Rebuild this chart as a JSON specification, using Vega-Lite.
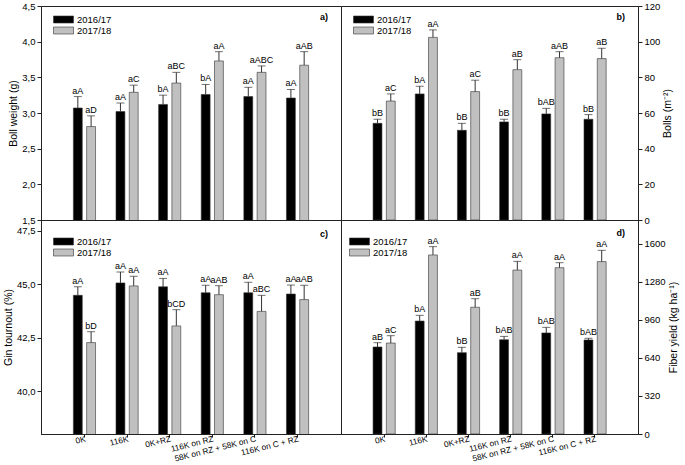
{
  "$schema": "https://vega.github.io/schema/vega-lite/v6.json",
  "padding": {"left": 3, "top": 0, "right": 0, "bottom": 0},
  "config": {
    "font": "Liberation Sans",
    "view": {"stroke": "#222", "strokeWidth": 1},
    "axis": {"grid": false, "domainColor": "#222", "tickColor": "#222", "labelColor": "#000", "titleColor": "#000", "labelFontSize": 9.5, "titleFontSize": 10.5, "titleFontWeight": "normal", "tickSize": 4, "labelPadding": 2, "titlePadding": 3, "labelFont": "Liberation Sans", "titleFont": "Liberation Sans", "labelOverlap": false},
    "legend": {"title": null, "orient": "none", "symbolType": "M-2,-0.7H2V0.7H-2Z", "symbolSize": 100, "symbolStrokeColor": "#333", "symbolStrokeWidth": 0.6, "labelFontSize": 9.5, "labelOffset": 8, "rowPadding": 0, "padding": 0, "labelFont": "Liberation Sans", "labelColor": "#000"},
    "title": {"anchor": "end", "frame": "group", "orient": "top", "fontSize": 9, "fontWeight": "bold", "font": "Liberation Sans", "dx": -13}
  },
  "datasets": {
    "boll": [
      {"treatment": "0K", "year": "2016/17", "mean": 3.07, "upper": 3.23, "label": "aA"},
      {"treatment": "0K", "year": "2017/18", "mean": 2.81, "upper": 2.96, "label": "aD"},
      {"treatment": "116K", "year": "2016/17", "mean": 3.02, "upper": 3.14, "label": "aA"},
      {"treatment": "116K", "year": "2017/18", "mean": 3.29, "upper": 3.39, "label": "aC"},
      {"treatment": "0K+RZ", "year": "2016/17", "mean": 3.12, "upper": 3.25, "label": "bA"},
      {"treatment": "0K+RZ", "year": "2017/18", "mean": 3.42, "upper": 3.57, "label": "aBC"},
      {"treatment": "116K on RZ", "year": "2016/17", "mean": 3.26, "upper": 3.40, "label": "bA"},
      {"treatment": "116K on RZ", "year": "2017/18", "mean": 3.73, "upper": 3.86, "label": "aA"},
      {"treatment": "58K on RZ + 58K on C", "year": "2016/17", "mean": 3.23, "upper": 3.36, "label": "aA"},
      {"treatment": "58K on RZ + 58K on C", "year": "2017/18", "mean": 3.57, "upper": 3.66, "label": "aABC"},
      {"treatment": "116K on C + RZ", "year": "2016/17", "mean": 3.21, "upper": 3.33, "label": "aA"},
      {"treatment": "116K on C + RZ", "year": "2017/18", "mean": 3.67, "upper": 3.86, "label": "aAB"}
    ],
    "bolls": [
      {"treatment": "0K", "year": "2016/17", "mean": 54.2, "upper": 56.5, "label": "bB"},
      {"treatment": "0K", "year": "2017/18", "mean": 66.7, "upper": 70.7, "label": "aC"},
      {"treatment": "116K", "year": "2016/17", "mean": 70.7, "upper": 75.0, "label": "bA"},
      {"treatment": "116K", "year": "2017/18", "mean": 102.4, "upper": 106.6, "label": "aA"},
      {"treatment": "0K+RZ", "year": "2016/17", "mean": 50.3, "upper": 54.2, "label": "bB"},
      {"treatment": "0K+RZ", "year": "2017/18", "mean": 72.0, "upper": 78.4, "label": "aC"},
      {"treatment": "116K on RZ", "year": "2016/17", "mean": 55.0, "upper": 56.5, "label": "bB"},
      {"treatment": "116K on RZ", "year": "2017/18", "mean": 84.3, "upper": 89.9, "label": "aB"},
      {"treatment": "58K on RZ + 58K on C", "year": "2016/17", "mean": 59.5, "upper": 62.6, "label": "bAB"},
      {"treatment": "58K on RZ + 58K on C", "year": "2017/18", "mean": 91.0, "upper": 94.4, "label": "aAB"},
      {"treatment": "116K on C + RZ", "year": "2016/17", "mean": 56.5, "upper": 59.1, "label": "bB"},
      {"treatment": "116K on C + RZ", "year": "2017/18", "mean": 90.5, "upper": 96.3, "label": "aB"}
    ],
    "gin": [
      {"treatment": "0K", "year": "2016/17", "mean": 44.48, "upper": 44.88, "label": "aA"},
      {"treatment": "0K", "year": "2017/18", "mean": 42.27, "upper": 42.78, "label": "bD"},
      {"treatment": "116K", "year": "2016/17", "mean": 45.06, "upper": 45.57, "label": "aA"},
      {"treatment": "116K", "year": "2017/18", "mean": 44.92, "upper": 45.37, "label": "aA"},
      {"treatment": "0K+RZ", "year": "2016/17", "mean": 44.88, "upper": 45.27, "label": "aA"},
      {"treatment": "0K+RZ", "year": "2017/18", "mean": 43.05, "upper": 43.81, "label": "bCD"},
      {"treatment": "116K on RZ", "year": "2016/17", "mean": 44.60, "upper": 44.95, "label": "aA"},
      {"treatment": "116K on RZ", "year": "2017/18", "mean": 44.51, "upper": 44.93, "label": "aAB"},
      {"treatment": "58K on RZ + 58K on C", "year": "2016/17", "mean": 44.60, "upper": 45.09, "label": "aA"},
      {"treatment": "58K on RZ + 58K on C", "year": "2017/18", "mean": 43.73, "upper": 44.48, "label": "aBC"},
      {"treatment": "116K on C + RZ", "year": "2016/17", "mean": 44.54, "upper": 44.96, "label": "aA"},
      {"treatment": "116K on C + RZ", "year": "2017/18", "mean": 44.28, "upper": 44.95, "label": "aAB"}
    ],
    "fiber": [
      {"treatment": "0K", "year": "2016/17", "mean": 732, "upper": 768, "label": "aB"},
      {"treatment": "0K", "year": "2017/18", "mean": 765, "upper": 827, "label": "aC"},
      {"treatment": "116K", "year": "2016/17", "mean": 950, "upper": 998, "label": "bA"},
      {"treatment": "116K", "year": "2017/18", "mean": 1506, "upper": 1576, "label": "aA"},
      {"treatment": "0K+RZ", "year": "2016/17", "mean": 684, "upper": 729, "label": "bB"},
      {"treatment": "0K+RZ", "year": "2017/18", "mean": 1066, "upper": 1138, "label": "aB"},
      {"treatment": "116K on RZ", "year": "2016/17", "mean": 793, "upper": 821, "label": "bAB"},
      {"treatment": "116K on RZ", "year": "2017/18", "mean": 1379, "upper": 1452, "label": "aA"},
      {"treatment": "58K on RZ + 58K on C", "year": "2016/17", "mean": 850, "upper": 897, "label": "bAB"},
      {"treatment": "58K on RZ + 58K on C", "year": "2017/18", "mean": 1399, "upper": 1441, "label": "aA"},
      {"treatment": "116K on C + RZ", "year": "2016/17", "mean": 791, "upper": 805, "label": "bAB"},
      {"treatment": "116K on C + RZ", "year": "2017/18", "mean": 1450, "upper": 1545, "label": "aA"}
    ]
  },
  "columns": 2,
  "spacing": 0,
  "bounds": "flush",
  "resolve": {"scale": {"color": "independent"}, "legend": {"color": "independent"}},
  "concat": [
    {
      "width": 300, "height": 214,
      "data": {"name": "boll"},
      "title": {"text": "a)", "offset": -21},
      "encoding": {
        "x": {"field": "treatment", "type": "nominal", "sort": ["0K", "116K", "0K+RZ", "116K on RZ", "58K on RZ + 58K on C", "116K on C + RZ"], "scale": {"paddingInner": 0.48, "paddingOuter": 0.76}, "axis": null},
        "xOffset": {"field": "year", "type": "nominal", "sort": ["2016/17", "2017/18"], "scale": {"paddingInner": 0.33, "paddingOuter": 0}}
      },
      "layer": [
        {"mark": {"type": "bar", "stroke": "#333", "strokeWidth": 0.6, "clip": true},
         "encoding": {
           "y": {"field": "mean", "type": "quantitative", "scale": {"domain": [1.5, 4.5], "zero": false, "nice": false}, "axis": {"title": "Boll weight (g)", "values": [1.5, 2, 2.5, 3, 3.5, 4, 4.5], "labelOverlap": false, "labelExpr": "replace(format(datum.value, '.1f'), '.', ',')"}},
           "color": {"field": "year", "type": "nominal", "scale": {"domain": ["2016/17", "2017/18"], "range": ["#000000", "#c0c0c0"]}, "legend": {"legendX": 17, "legendY": 8}}
         }},
        {"mark": {"type": "rule", "color": "#333", "strokeWidth": 1}, "encoding": {"y": {"field": "mean", "type": "quantitative", "axis": {"title": "Boll weight (g)", "values": [1.5, 2, 2.5, 3, 3.5, 4, 4.5], "labelOverlap": false, "labelExpr": "replace(format(datum.value, '.1f'), '.', ',')"}}, "y2": {"field": "upper"}}},
        {"mark": {"type": "tick", "orient": "horizontal", "size": 8, "thickness": 1, "color": "#333"}, "encoding": {"y": {"field": "upper", "type": "quantitative", "axis": {"title": "Boll weight (g)", "values": [1.5, 2, 2.5, 3, 3.5, 4, 4.5], "labelOverlap": false, "labelExpr": "replace(format(datum.value, '.1f'), '.', ',')"}}}},
        {"mark": {"type": "text", "baseline": "bottom", "dy": -1, "fontSize": 9}, "encoding": {"y": {"field": "upper", "type": "quantitative", "axis": {"title": "Boll weight (g)", "values": [1.5, 2, 2.5, 3, 3.5, 4, 4.5], "labelOverlap": false, "labelExpr": "replace(format(datum.value, '.1f'), '.', ',')"}}, "text": {"field": "label"}}}
      ]
    },
    {
      "width": 297, "height": 214,
      "data": {"name": "bolls"},
      "title": {"text": "b)", "offset": -21},
      "encoding": {
        "x": {"field": "treatment", "type": "nominal", "sort": ["0K", "116K", "0K+RZ", "116K on RZ", "58K on RZ + 58K on C", "116K on C + RZ"], "scale": {"paddingInner": 0.48, "paddingOuter": 0.76}, "axis": null},
        "xOffset": {"field": "year", "type": "nominal", "sort": ["2016/17", "2017/18"], "scale": {"paddingInner": 0.33, "paddingOuter": 0}}
      },
      "layer": [
        {"mark": {"type": "bar", "stroke": "#333", "strokeWidth": 0.6, "clip": true},
         "encoding": {
           "y": {"field": "mean", "type": "quantitative", "scale": {"domain": [0, 120], "nice": false}, "axis": {"orient": "right", "title": "Bolls (m⁻²)", "titleAngle": 270, "titleBaseline": "top", "values": [0, 20, 40, 60, 80, 100, 120], "labelOverlap": false, "format": "d"}},
           "color": {"field": "year", "type": "nominal", "scale": {"domain": ["2016/17", "2017/18"], "range": ["#000000", "#c0c0c0"]}, "legend": {"legendX": 17, "legendY": 8}}
         }},
        {"mark": {"type": "rule", "color": "#333", "strokeWidth": 1}, "encoding": {"y": {"field": "mean", "type": "quantitative", "axis": {"orient": "right", "title": "Bolls (m⁻²)", "titleAngle": 270, "titleBaseline": "top", "values": [0, 20, 40, 60, 80, 100, 120], "labelOverlap": false, "format": "d"}}, "y2": {"field": "upper"}}},
        {"mark": {"type": "tick", "orient": "horizontal", "size": 8, "thickness": 1, "color": "#333"}, "encoding": {"y": {"field": "upper", "type": "quantitative", "axis": {"orient": "right", "title": "Bolls (m⁻²)", "titleAngle": 270, "titleBaseline": "top", "values": [0, 20, 40, 60, 80, 100, 120], "labelOverlap": false, "format": "d"}}}},
        {"mark": {"type": "text", "baseline": "bottom", "dy": -1, "fontSize": 9}, "encoding": {"y": {"field": "upper", "type": "quantitative", "axis": {"orient": "right", "title": "Bolls (m⁻²)", "titleAngle": 270, "titleBaseline": "top", "values": [0, 20, 40, 60, 80, 100, 120], "labelOverlap": false, "format": "d"}}, "text": {"field": "label"}}}
      ]
    },
    {
      "width": 300, "height": 214,
      "data": {"name": "gin"},
      "title": {"text": "c)", "offset": -19},
      "encoding": {
        "x": {"field": "treatment", "type": "nominal", "sort": ["0K", "116K", "0K+RZ", "116K on RZ", "58K on RZ + 58K on C", "116K on C + RZ"], "scale": {"paddingInner": 0.48, "paddingOuter": 0.76}, "axis": {"title": null, "labelAngle": -14, "labelAlign": "right", "labelBaseline": "top", "labelPadding": -3, "tickSize": 3, "labelFontSize": 8.3}},
        "xOffset": {"field": "year", "type": "nominal", "sort": ["2016/17", "2017/18"], "scale": {"paddingInner": 0.33, "paddingOuter": 0}}
      },
      "layer": [
        {"mark": {"type": "bar", "stroke": "#333", "strokeWidth": 0.6, "clip": true},
         "encoding": {
           "y": {"field": "mean", "type": "quantitative", "scale": {"domain": [38, 48], "zero": false, "nice": false}, "axis": {"title": "Gin tournout (%)", "values": [40, 42.5, 45, 47.5], "labelOverlap": false, "labelExpr": "replace(format(datum.value, '.1f'), '.', ',')"}},
           "color": {"field": "year", "type": "nominal", "scale": {"domain": ["2016/17", "2017/18"], "range": ["#000000", "#c0c0c0"]}, "legend": {"legendX": 17, "legendY": 16}}
         }},
        {"mark": {"type": "rule", "color": "#333", "strokeWidth": 1}, "encoding": {"y": {"field": "mean", "type": "quantitative", "axis": {"title": "Gin tournout (%)", "values": [40, 42.5, 45, 47.5], "labelOverlap": false, "labelExpr": "replace(format(datum.value, '.1f'), '.', ',')"}}, "y2": {"field": "upper"}}},
        {"mark": {"type": "tick", "orient": "horizontal", "size": 8, "thickness": 1, "color": "#333"}, "encoding": {"y": {"field": "upper", "type": "quantitative", "axis": {"title": "Gin tournout (%)", "values": [40, 42.5, 45, 47.5], "labelOverlap": false, "labelExpr": "replace(format(datum.value, '.1f'), '.', ',')"}}}},
        {"mark": {"type": "text", "baseline": "bottom", "dy": -1, "fontSize": 9}, "encoding": {"y": {"field": "upper", "type": "quantitative", "axis": {"title": "Gin tournout (%)", "values": [40, 42.5, 45, 47.5], "labelOverlap": false, "labelExpr": "replace(format(datum.value, '.1f'), '.', ',')"}}, "text": {"field": "label"}}}
      ]
    },
    {
      "width": 297, "height": 214,
      "data": {"name": "fiber"},
      "title": {"text": "d)", "offset": -18},
      "encoding": {
        "x": {"field": "treatment", "type": "nominal", "sort": ["0K", "116K", "0K+RZ", "116K on RZ", "58K on RZ + 58K on C", "116K on C + RZ"], "scale": {"paddingInner": 0.48, "paddingOuter": 0.76}, "axis": {"title": null, "labelAngle": -14, "labelAlign": "right", "labelBaseline": "top", "labelPadding": -3, "tickSize": 3, "labelFontSize": 8.3}},
        "xOffset": {"field": "year", "type": "nominal", "sort": ["2016/17", "2017/18"], "scale": {"paddingInner": 0.33, "paddingOuter": 0}}
      },
      "layer": [
        {"mark": {"type": "bar", "stroke": "#333", "strokeWidth": 0.6, "clip": true},
         "encoding": {
           "y": {"field": "mean", "type": "quantitative", "scale": {"domain": [0, 1800], "nice": false}, "axis": {"orient": "right", "title": "Fiber yield (kg ha⁻¹)", "titleAngle": 270, "titleBaseline": "top", "values": [0, 320, 640, 960, 1280, 1600], "labelOverlap": false, "format": "d"}},
           "color": {"field": "year", "type": "nominal", "scale": {"domain": ["2016/17", "2017/18"], "range": ["#000000", "#c0c0c0"]}, "legend": {"legendX": 13, "legendY": 16}}
         }},
        {"mark": {"type": "rule", "color": "#333", "strokeWidth": 1}, "encoding": {"y": {"field": "mean", "type": "quantitative", "axis": {"orient": "right", "title": "Fiber yield (kg ha⁻¹)", "titleAngle": 270, "titleBaseline": "top", "values": [0, 320, 640, 960, 1280, 1600], "labelOverlap": false, "format": "d"}}, "y2": {"field": "upper"}}},
        {"mark": {"type": "tick", "orient": "horizontal", "size": 8, "thickness": 1, "color": "#333"}, "encoding": {"y": {"field": "upper", "type": "quantitative", "axis": {"orient": "right", "title": "Fiber yield (kg ha⁻¹)", "titleAngle": 270, "titleBaseline": "top", "values": [0, 320, 640, 960, 1280, 1600], "labelOverlap": false, "format": "d"}}}},
        {"mark": {"type": "text", "baseline": "bottom", "dy": -1, "fontSize": 9}, "encoding": {"y": {"field": "upper", "type": "quantitative", "axis": {"orient": "right", "title": "Fiber yield (kg ha⁻¹)", "titleAngle": 270, "titleBaseline": "top", "values": [0, 320, 640, 960, 1280, 1600], "labelOverlap": false, "format": "d"}}, "text": {"field": "label"}}}
      ]
    }
  ]
}
